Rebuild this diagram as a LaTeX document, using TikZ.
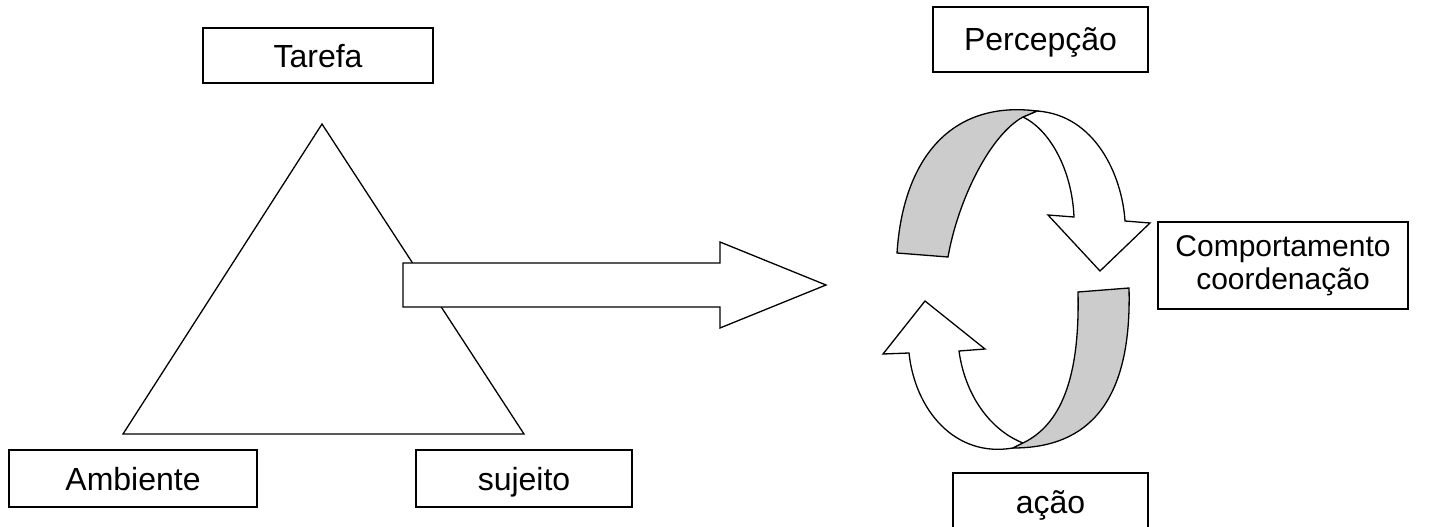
\documentclass[tikz,border=0pt]{standalone}
\usepackage{fontspec}
\setmainfont{Liberation Sans}
\begin{document}
\begin{tikzpicture}[x=1pt,y=-1pt,
  lw/.style={line width=1.3pt, line join=miter},
  boxbase/.style={draw, lw, rectangle, inner sep=0pt, align=center},
  box/.style={boxbase, font=\fontsize{32}{34}\selectfont, text height=23pt, text depth=0pt},
  whitefill/.style={draw, lw, fill=white},
  grayfill/.style={draw, lw, fill=bandgray}]
\definecolor{bandgray}{HTML}{CCCCCC}
\useasboundingbox (0,0) rectangle (1429,527);

% triangle
\draw[lw] (322,124) -- (123,434) -- (524,434) -- cycle;

% big arrow
\draw[whitefill] (403,263) -- (720,263) -- (720,242) -- (826,285) -- (720,328) -- (720,307) -- (403,307) -- cycle;

% boxes
\node[box, minimum width=230pt, minimum height=55pt] (tarefa) at (318,55.5) {Tarefa};
\node[box, minimum width=248pt, minimum height=57pt] (ambiente) at (133,478.5) {Ambiente};
\node[box, minimum width=216pt, minimum height=57pt] (sujeito) at (524,478.5) {sujeito};
\node[box, minimum width=215pt, minimum height=65pt] (percepcao) at (1040.5,39.5) {Percepção};
\node[boxbase, minimum width=250pt, minimum height=87pt, font=\fontsize{30}{33}\selectfont]
  (comport) at (1283,265.5) {Comportamento\\coordenação};
\node[box, minimum width=195pt, minimum height=70pt, text height=24pt, text depth=14pt] (acao) at (1050.5,508) {ação};

% top curved arrow
\draw[whitefill] (1023,117) -- (1037,111) .. controls (1095,115) and (1122,175) .. (1125,221)
  -- (1150,223) -- (1100,271) -- (1048,215) -- (1074,217)
  .. controls (1072,170) and (1050,130) .. (1023,117) -- cycle;
\draw[grayfill] (897,253) .. controls (903,160) and (950,100) .. (1037,111)
  -- (1023,117) .. controls (990,135) and (958,200) .. (948,257) -- cycle;

% bottom curved arrow
\draw[whitefill] (1023,443) -- (1013,448) .. controls (955,458) and (915,410) .. (909,353)
  -- (883,354) -- (925,301) -- (985,349) -- (959,351)
  .. controls (965,395) and (990,430) .. (1023,443) -- cycle;
\draw[grayfill] (1078,292) -- (1129,288) .. controls (1132,400) and (1090,448) .. (1013,448)
  -- (1023,443) .. controls (1060,425) and (1080,380) .. (1078,292) -- cycle;
\end{tikzpicture}
\end{document}
